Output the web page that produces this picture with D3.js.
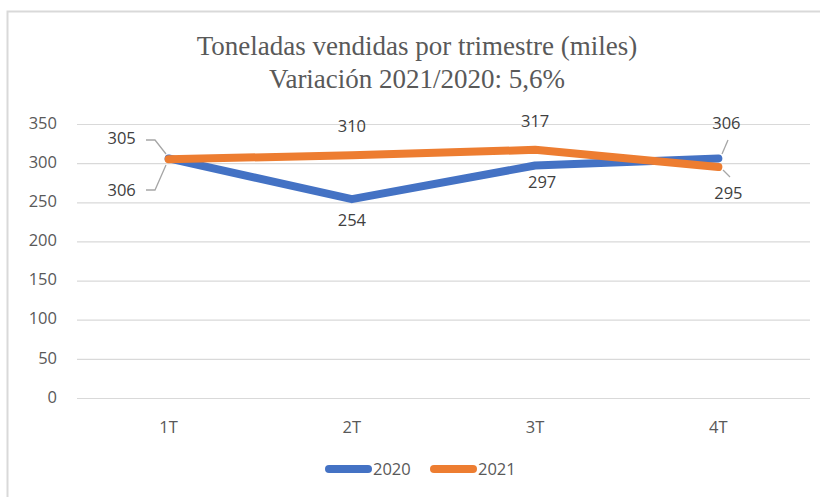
<!DOCTYPE html>
<html><head><meta charset="utf-8">
<script src="https://cdn.jsdelivr.net/npm/d3@7"></script>
<style>
html,body{margin:0;padding:0;background:#fff;}
svg{display:block;}
</style></head>
<body>
<svg id="c" width="820" height="497"></svg>
<script>
const categories = ["1T","2T","3T","4T"];
const values2020 = [306, 254, 297, 306];
const values2021 = [305, 310, 317, 295];
const seriesNames = ["2020","2021"];
const yTicks = [0,50,100,150,200,250,300,350];
const titleLines = ["Toneladas vendidas por trimestre (miles)","Variación 2021/2020: 5,6%"];

// label layout (offsets from the point, px), kept apart from data
const labelOffsets2020 = [[-47,32],[0,21],[7,17],[8,-35]];
const labelOffsets2021 = [[-47,-21],[0,-29],[0,-29],[10,26]];
const colors = ["#4472C4","#ED7D31"];

const svg = d3.select("#c");
const font = "'Open Sans', 'Liberation Sans', sans-serif";
const fs = 16.5;

// chart border
svg.append("rect").attr("x",7.5).attr("y",11.5).attr("width",830).attr("height",500)
  .attr("fill","#fff").attr("stroke","#d9d9d9").attr("stroke-width",2);

const x = d3.scaleBand().domain(categories).range([77,810]).padding(0);
const y = d3.scaleLinear().domain([0,350]).range([398,124]);
const cx = d=>x(d)+x.bandwidth()/2;

// title
const t = svg.append("text").attr("text-anchor","middle")
  .attr("font-family","'Liberation Serif','Times New Roman',serif")
  .attr("font-size",27).attr("fill","#595959");
titleLines.forEach((s,i)=>{
  t.append("tspan").attr("x",417).attr("y",55+i*33).text(s);
});

// gridlines
svg.append("g").selectAll("line").data(yTicks).join("line")
  .attr("x1",77).attr("x2",810)
  .attr("y1",d=>y(d)+0.5).attr("y2",d=>y(d)+0.5)
  .attr("stroke","#d9d9d9").attr("stroke-width",1.2);

// y labels
svg.append("g").selectAll("text").data(yTicks).join("text")
  .attr("x",57).attr("y",d=>y(d)-1).attr("dy","0.35em")
  .attr("text-anchor","end").attr("font-family",font).attr("font-size",fs)
  .attr("fill","#595959").text(d=>d);

// x labels
svg.append("g").selectAll("text").data(categories).join("text")
  .attr("x",d=>cx(d)).attr("y",427).attr("dy","0.35em")
  .attr("text-anchor","middle").attr("font-family",font).attr("font-size",fs)
  .attr("fill","#595959").text(d=>d);

const line = d3.line().x(d=>cx(d.c)).y(d=>y(d.v));
const series = [values2020, values2021].map((vals,i)=>({name:seriesNames[i], color:colors[i],
  pts: vals.map((v,j)=>({c:categories[j], v}))}));

series.forEach(s=>{
  svg.append("path").datum(s.pts).attr("d",line).attr("fill","none")
    .attr("stroke",s.color).attr("stroke-width",8)
    .attr("stroke-linecap","round").attr("stroke-linejoin","round");
});

// leader lines
const leaderColor = "#a6a6a6";
const leaders = [
  [[146,140],[155,140],[166,154]],
  [[146,190],[155,190],[166,165]],
  [[722,154],[728,140]],
  [[723,170],[730,177]]
];
leaders.forEach(p=>{
  svg.append("path").attr("d",d3.line()(p)).attr("fill","none")
    .attr("stroke",leaderColor).attr("stroke-width",1.3);
});

// data labels
[labelOffsets2020, labelOffsets2021].forEach((offs,i)=>{
  const s = series[i];
  svg.append("g").selectAll("text").data(s.pts).join("text")
    .attr("x",(d,j)=>cx(d.c)+offs[j][0])
    .attr("y",(d,j)=>y(d.v)+offs[j][1]).attr("dy","0.35em")
    .attr("text-anchor","middle").attr("font-family",font).attr("font-size",fs)
    .attr("fill","#404040").text(d=>d.v);
});

// legend
const leg = svg.append("g");
const legX = [325, 430];
series.forEach((s,i)=>{
  leg.append("line").attr("x1",legX[i]+4).attr("x2",legX[i]+43).attr("y1",469).attr("y2",469)
    .attr("stroke",s.color).attr("stroke-width",8).attr("stroke-linecap","round");
  leg.append("text").attr("x",legX[i]+48).attr("y",469).attr("dy","0.35em")
    .attr("font-family",font).attr("font-size",fs).attr("fill","#595959").text(s.name);
});
</script>
</body></html>
